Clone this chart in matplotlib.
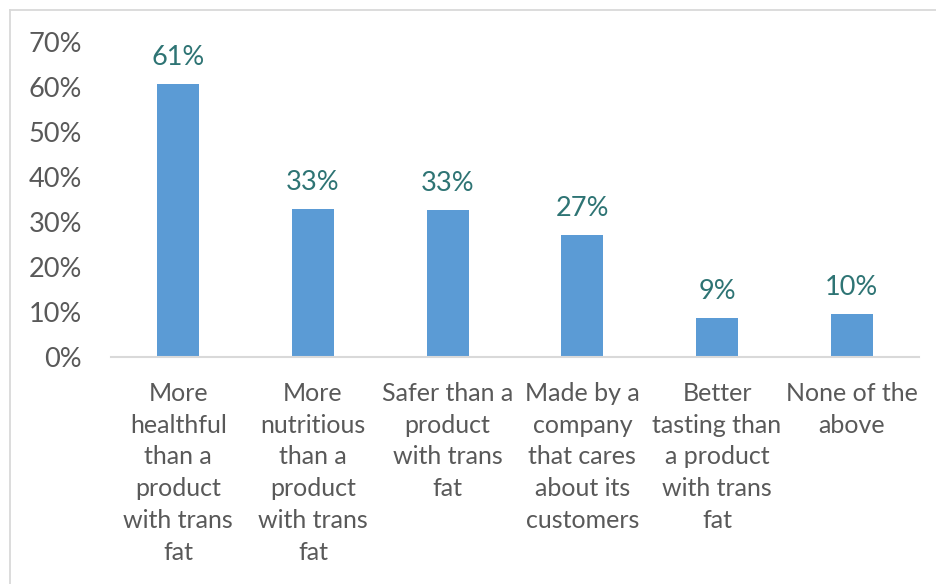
import matplotlib.pyplot as plt
from matplotlib.lines import Line2D

plt.rcParams['font.family'] = ['Lato', 'DejaVu Sans']

categories = [
    "More\nhealthful\nthan a\nproduct\nwith trans\nfat",
    "More\nnutritious\nthan a\nproduct\nwith trans\nfat",
    "Safer than a\nproduct\nwith trans\nfat",
    "Made by a\ncompany\nthat cares\nabout its\ncustomers",
    "Better\ntasting than\na product\nwith trans\nfat",
    "None of the\nabove",
]
shares = [0.606, 0.330, 0.327, 0.272, 0.087, 0.096]
yticks = [0, 0.1, 0.2, 0.3, 0.4, 0.5, 0.6, 0.7]

bar_color = "#5B9BD5"
label_color = "#2E7474"
text_color = "#595959"
line_color = "#D9D9D9"

W, H = 936, 584
fig = plt.figure(figsize=(W / 100, H / 100), dpi=100)
ax = fig.add_axes([111 / W, (H - 357) / H, (919 - 111) / W, (357 - 42) / H])

x = range(len(categories))
bars = ax.bar(x, shares, width=0.31, color=bar_color, zorder=2)

for rect, v in zip(bars, shares):
    ax.annotate(f"{v:.0%}", (rect.get_x() + rect.get_width() / 2, v),
                xytext=(0, 10), textcoords="offset points",
                ha="center", va="bottom", fontsize=19.5, color=label_color)

ax.set_xlim(-0.5, len(categories) - 0.5)
ax.set_ylim(0, 0.7)
ax.set_yticks(yticks)
ax.set_yticklabels([f"{t:.0%}" for t in yticks], fontsize=19.5, color=text_color)
ax.set_xticks(list(x))
ax.set_xticklabels(categories, fontsize=18, color=text_color, linespacing=1.46, va="top")
ax.tick_params(axis="both", length=0)
ax.tick_params(axis="y", pad=21)
ax.tick_params(axis="x", pad=18)

for side in ("top", "right", "left"):
    ax.spines[side].set_visible(False)
ax.spines["bottom"].set_color(line_color)
ax.spines["bottom"].set_linewidth(1.5)

# chart area border (left and top edges only show)
fig.add_artist(Line2D([9.5 / W, 9.5 / W], [0, (H - 10) / H], color=line_color, lw=1.3))
fig.add_artist(Line2D([9.5 / W, 1], [(H - 10) / H, (H - 10) / H], color=line_color, lw=1.3))

fig.savefig("out.png", dpi=100, facecolor="white")
